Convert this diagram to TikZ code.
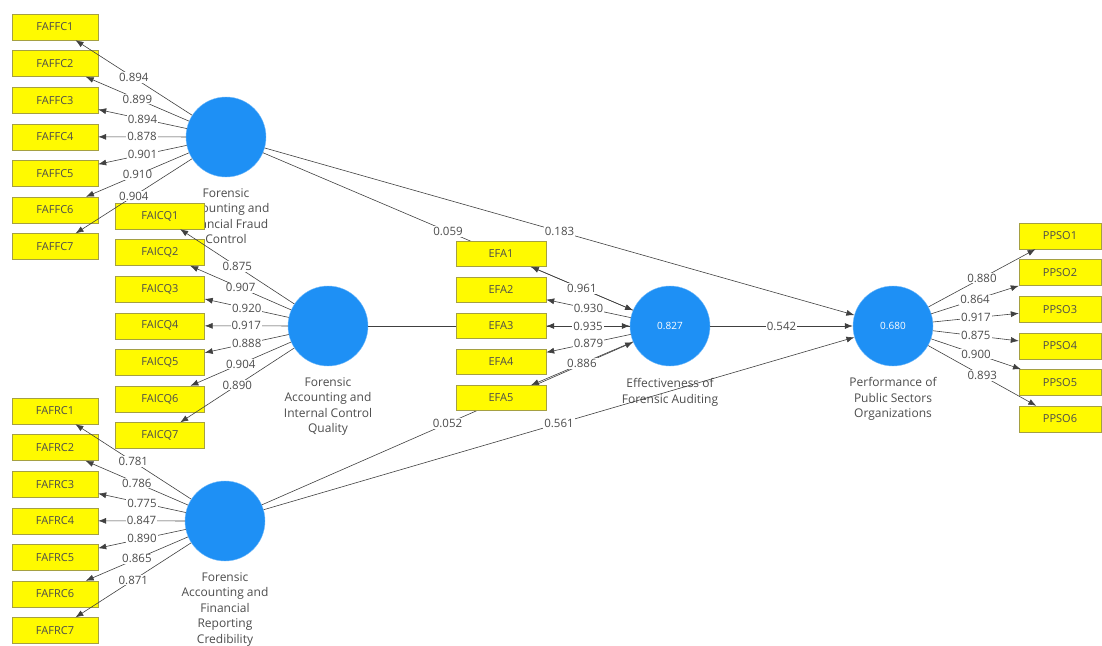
\documentclass[tikz,border=0pt]{standalone}
\usepackage{fontspec}
\setmainfont{Open Sans}
\usetikzlibrary{positioning,arrows.meta}
\definecolor{plsblue}{RGB}{30,144,245}
\definecolor{plsyellow}{RGB}{255,250,0}
\tikzset{
  indicator/.style = {shape=rectangle, draw=yellow!60!black, fill=plsyellow,
                      minimum width=86pt, minimum height=26pt, inner sep=0pt,
                      font=\fontsize{11}{12}\selectfont, text=black!70},
  construct/.style = {shape=circle, draw=plsblue!60!white, fill=plsblue,
                      minimum size=80pt, inner sep=0pt, text=white,
                      font=\fontsize{10}{11}\selectfont},
  cname/.style     = {align=center, inner sep=0pt, text=black!70,
                      font=\fontsize{12}{15.5}\selectfont},
  loading/.style   = {draw=black!75, line width=0.6pt,
                      -{Latex[length=8pt,width=6pt]}},
  coef/.style      = {fill=white, inner sep=1pt, text=black!70,
                      font=\fontsize{11.5}{12}\selectfont}
}
\begin{document}
\begin{tikzpicture}[x=1pt, y=-1pt]
  \useasboundingbox (0,0) rectangle (1102,645);

  \node [construct] (faffc) at (226,137) {};
  \node [construct] (faicq) at (328,326) {};
  \node [construct] (fafrc) at (225,521) {};
  \node [construct] (efa)   at (670,326) {0.827};
  \node [construct] (ppso)  at (893,326) {0.680};

  \node [cname, below=11pt of faffc] {Forensic\\Accounting and\\Financial Fraud\\Control};
  \node [cname, below=11pt of faicq] {Forensic\\Accounting and\\Internal Control\\Quality};
  \node [cname, below=11pt of fafrc] {Forensic\\Accounting and\\Financial\\Reporting\\Credibility};
  \node [cname, below=12pt of efa]   {Effectiveness of\\Forensic Auditing};
  \node [cname, below=11pt of ppso]  {Performance of\\Public Sectors\\Organizations};

  \draw [loading] (faffc) -- node[coef] {0.059} (efa);
  \draw [loading] (faffc) -- node[coef] {0.183} (ppso);
  \draw [loading] (faicq) -- (efa);
  \draw [loading] (fafrc) -- node[coef] {0.052} (efa);
  \draw [loading] (fafrc) -- node[coef] {0.561} (ppso);
  \draw [loading] (efa) -- node[coef] {0.542} (ppso);

  \node [indicator] (faffc1) at (55,27)    {FAFFC1};
  \node [indicator] (faffc2) at (55,63.6)  {FAFFC2};
  \node [indicator] (faffc3) at (55,100.2) {FAFFC3};
  \node [indicator] (faffc4) at (55,136.8) {FAFFC4};
  \node [indicator] (faffc5) at (55,173.4) {FAFFC5};
  \node [indicator] (faffc6) at (55,210)   {FAFFC6};
  \node [indicator] (faffc7) at (55,246.6) {FAFFC7};

  \node [indicator, minimum width=89pt] (faicq1) at (160,216)   {FAICQ1};
  \node [indicator, minimum width=89pt] (faicq2) at (160,252.6) {FAICQ2};
  \node [indicator, minimum width=89pt] (faicq3) at (160,289.2) {FAICQ3};
  \node [indicator, minimum width=89pt] (faicq4) at (160,325.8) {FAICQ4};
  \node [indicator, minimum width=89pt] (faicq5) at (160,362.4) {FAICQ5};
  \node [indicator, minimum width=89pt] (faicq6) at (160,399)   {FAICQ6};
  \node [indicator, minimum width=89pt] (faicq7) at (160,435.6) {FAICQ7};

  \node [indicator] (fafrc1) at (55,411)   {FAFRC1};
  \node [indicator] (fafrc2) at (55,447.6) {FAFRC2};
  \node [indicator] (fafrc3) at (55,484.2) {FAFRC3};
  \node [indicator] (fafrc4) at (55,520.8) {FAFRC4};
  \node [indicator] (fafrc5) at (55,557.4) {FAFRC5};
  \node [indicator] (fafrc6) at (55,594)   {FAFRC6};
  \node [indicator] (fafrc7) at (55,630.6) {FAFRC7};

  \node [indicator, minimum width=90pt, minimum height=25pt] (efa1) at (501,254) {EFA1};
  \node [indicator, minimum width=90pt, minimum height=25pt] (efa2) at (501,290) {EFA2};
  \node [indicator, minimum width=90pt, minimum height=25pt] (efa3) at (501,326) {EFA3};
  \node [indicator, minimum width=90pt, minimum height=25pt] (efa4) at (501,362) {EFA4};
  \node [indicator, minimum width=90pt, minimum height=25pt] (efa5) at (501,398) {EFA5};

  \node [indicator, minimum width=82pt] (ppso1) at (1060,236)   {PPSO1};
  \node [indicator, minimum width=82pt] (ppso2) at (1060,272.6) {PPSO2};
  \node [indicator, minimum width=82pt] (ppso3) at (1060,309.2) {PPSO3};
  \node [indicator, minimum width=82pt] (ppso4) at (1060,345.8) {PPSO4};
  \node [indicator, minimum width=82pt] (ppso5) at (1060,382.4) {PPSO5};
  \node [indicator, minimum width=82pt] (ppso6) at (1060,419)   {PPSO6};

  \draw [loading] (faffc) -- node[coef] {0.894} (faffc1);
  \draw [loading] (faffc) -- node[coef] {0.899} (faffc2);
  \draw [loading] (faffc) -- node[coef] {0.894} (faffc3);
  \draw [loading] (faffc) -- node[coef] {0.878} (faffc4);
  \draw [loading] (faffc) -- node[coef] {0.901} (faffc5);
  \draw [loading] (faffc) -- node[coef] {0.910} (faffc6);
  \draw [loading] (faffc) -- node[coef] {0.904} (faffc7);

  \draw [loading] (faicq) -- node[coef] {0.875} (faicq1);
  \draw [loading] (faicq) -- node[coef] {0.907} (faicq2);
  \draw [loading] (faicq) -- node[coef] {0.920} (faicq3);
  \draw [loading] (faicq) -- node[coef] {0.917} (faicq4);
  \draw [loading] (faicq) -- node[coef] {0.888} (faicq5);
  \draw [loading] (faicq) -- node[coef] {0.904} (faicq6);
  \draw [loading] (faicq) -- node[coef] {0.890} (faicq7);

  \draw [loading] (fafrc) -- node[coef] {0.781} (fafrc1);
  \draw [loading] (fafrc) -- node[coef] {0.786} (fafrc2);
  \draw [loading] (fafrc) -- node[coef] {0.775} (fafrc3);
  \draw [loading] (fafrc) -- node[coef] {0.847} (fafrc4);
  \draw [loading] (fafrc) -- node[coef] {0.890} (fafrc5);
  \draw [loading] (fafrc) -- node[coef] {0.865} (fafrc6);
  \draw [loading] (fafrc) -- node[coef] {0.871} (fafrc7);

  \draw [loading] (efa) -- node[coef] {0.961} (efa1);
  \draw [loading] (efa) -- node[coef] {0.930} (efa2);
  \draw [loading] (efa) -- node[coef] {0.935} (efa3);
  \draw [loading] (efa) -- node[coef] {0.879} (efa4);
  \draw [loading] (efa) -- node[coef] {0.886} (efa5);

  \draw [loading] (ppso) -- node[coef] {0.880} (ppso1);
  \draw [loading] (ppso) -- node[coef] {0.864} (ppso2);
  \draw [loading] (ppso) -- node[coef] {0.917} (ppso3);
  \draw [loading] (ppso) -- node[coef] {0.875} (ppso4);
  \draw [loading] (ppso) -- node[coef] {0.900} (ppso5);
  \draw [loading] (ppso) -- node[coef] {0.893} (ppso6);
\end{tikzpicture}
\end{document}
